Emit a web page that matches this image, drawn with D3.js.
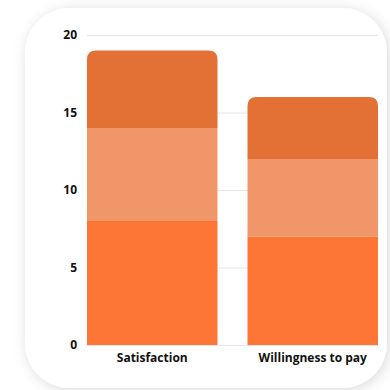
<!DOCTYPE html>
<html>
<head>
<meta charset="utf-8">
<script src="https://cdn.jsdelivr.net/npm/d3@7"></script>
<style>
  body { margin: 0; background: #fff; }
  svg { display: block; font-family: "Open Sans", "Noto Sans", sans-serif; }
</style>
</head>
<body>
<svg></svg>
<script>
const categories = ["Satisfaction", "Willingness to pay"];
const series = ["low", "mid", "high"];
const lowValues = [8, 7];
const midValues = [6, 5];
const highValues = [5, 4];
const yTicks = [0, 5, 10, 15, 20];
const colors = ["#fe7636", "#f09668", "#e37136"];

const w = 390, h = 390;
const margin = { top: 35, right: 12, bottom: 45, left: 87 };

const svg = d3.select("svg").attr("width", w).attr("height", h);

// card with shadow
const defs = svg.append("defs");
const f = defs.append("filter").attr("id", "sh")
  .attr("x", "-20%").attr("y", "-20%").attr("width", "140%").attr("height", "140%");
f.append("feDropShadow").attr("dx", 2).attr("dy", 2)
  .attr("stdDeviation", 7).attr("flood-color", "#000").attr("flood-opacity", 0.15);

svg.append("rect")
  .attr("x", 25).attr("y", 8)
  .attr("width", 362).attr("height", 380)
  .attr("rx", 45)
  .attr("fill", "#fff")
  .attr("filter", "url(#sh)");

const rows = categories.map((c, i) => ({ cat: c, low: lowValues[i], mid: midValues[i], high: highValues[i] }));
const stacked = d3.stack().keys(series)(rows);

const x = d3.scaleBand()
  .domain(categories)
  .range([margin.left, w - margin.right])
  .paddingInner(0.187);

const y = d3.scaleLinear()
  .domain([0, 20])
  .range([h - margin.bottom, margin.top]);

// gridlines
svg.append("g")
  .selectAll("line")
  .data(yTicks)
  .enter().append("line")
  .attr("x1", margin.left)
  .attr("x2", w - margin.right)
  .attr("y1", d => y(d) + 0.5)
  .attr("y2", d => y(d) + 0.5)
  .attr("stroke", "#e6e6e6");

// y axis labels
const yAxis = svg.append("g")
  .attr("transform", `translate(${margin.left - 10},0)`)
  .call(d3.axisLeft(y).tickValues(yTicks).tickSize(0).tickPadding(0));
yAxis.select(".domain").remove();
yAxis.selectAll("text")
  .attr("font-family", "'Open Sans', sans-serif")
  .attr("font-size", 12)
  .attr("font-weight", 700)
  .attr("fill", "#111");

// bars
function barPath(x0, y0, width, height, r) {
  r = Math.min(r, height);
  return `M${x0},${y0 + height}V${y0 + r}Q${x0},${y0} ${x0 + r},${y0}H${x0 + width - r}Q${x0 + width},${y0} ${x0 + width},${y0 + r}V${y0 + height}Z`;
}

stacked.forEach((layer, li) => {
  svg.append("g")
    .selectAll("path")
    .data(layer)
    .enter().append("path")
    .attr("d", d => {
      const x0 = x(d.data.cat), bw = x.bandwidth();
      const y0 = y(d[1]), hh = y(d[0]) - y(d[1]);
      return li === series.length - 1 ? barPath(x0, y0, bw, hh, 9) : `M${x0},${y0}h${bw}v${hh}h${-bw}Z`;
    })
    .attr("fill", colors[li]);
});

// baseline
svg.append("line")
  .attr("x1", margin.left).attr("x2", w - margin.right)
  .attr("y1", y(0) + 0.5).attr("y2", y(0) + 0.5)
  .attr("stroke", "#e6e6e6");

// x labels
const xAxis = svg.append("g")
  .attr("transform", `translate(0,${y(0)})`)
  .call(d3.axisBottom(x).tickSize(0).tickPadding(8));
xAxis.select(".domain").remove();
xAxis.selectAll("text")
  .attr("font-family", "'Open Sans', sans-serif")
  .attr("font-size", 12)
  .attr("font-weight", 700)
  .attr("fill", "#111");
</script>
</body>
</html>
